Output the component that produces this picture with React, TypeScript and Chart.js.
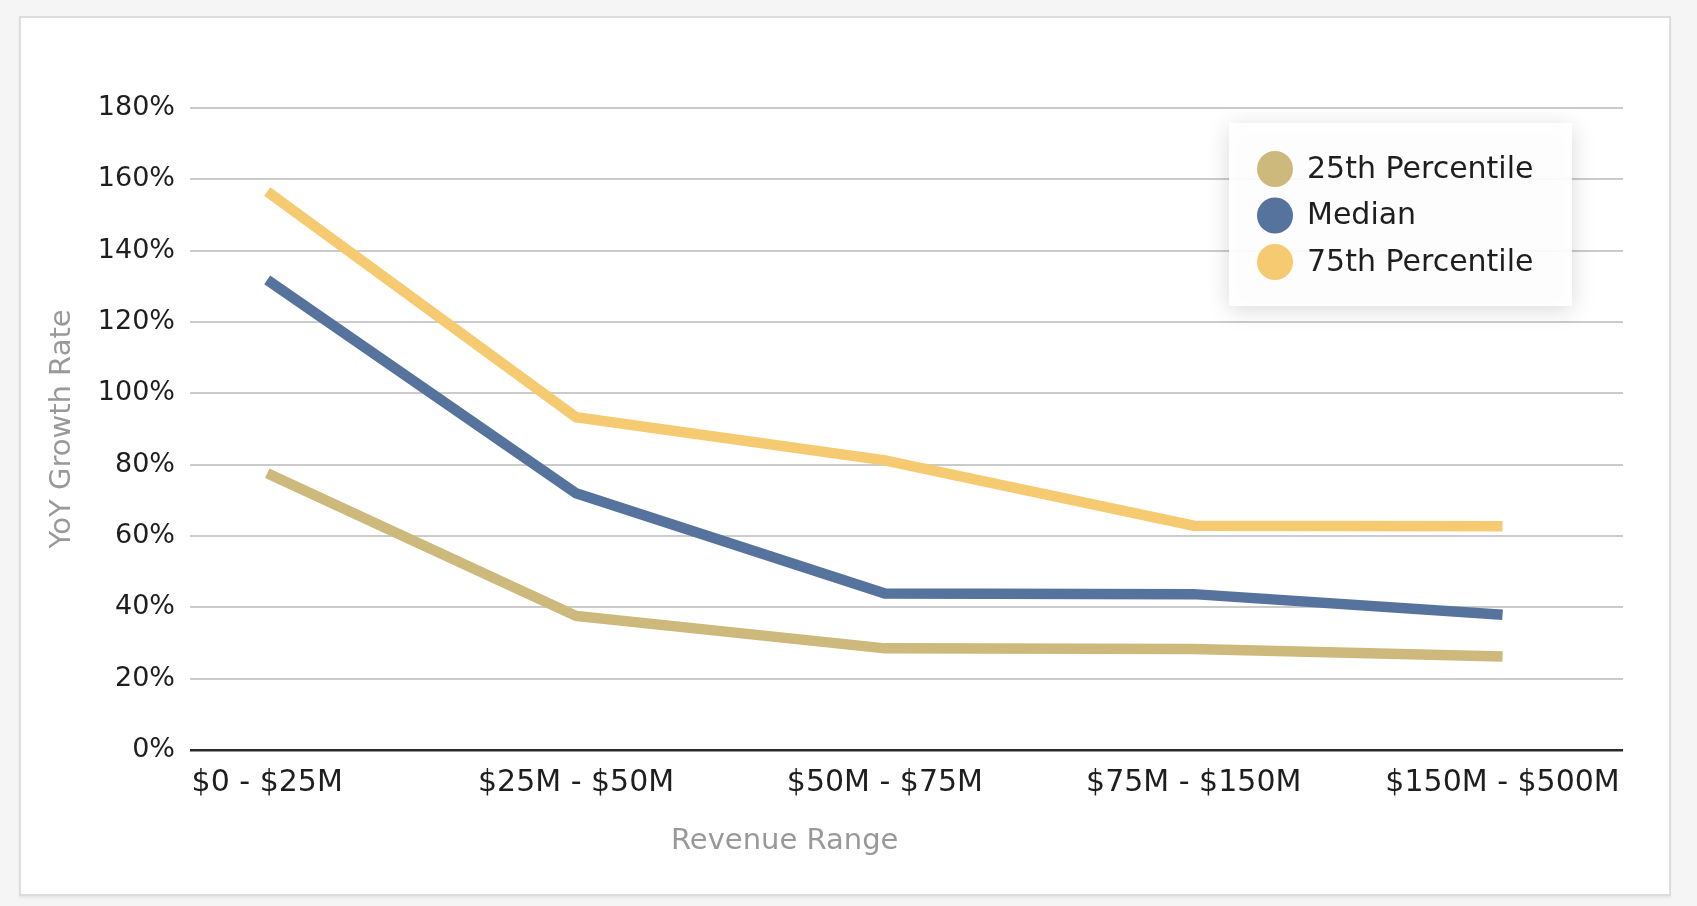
import React, { useEffect, useRef } from "react";
import { Chart, registerables } from "chart.js";

Chart.register(...registerables);

const categories = ["$0 - $25M", "$25M - $50M", "$50M - $75M", "$75M - $150M", "$150M - $500M"];
const seriesNames = ["25th Percentile", "Median", "75th Percentile"];
const p25 = [77.6, 37.6, 28.5, 28.3, 26.2];
const median = [131.8, 72.0, 43.9, 43.7, 37.9];
const p75 = [156.6, 93.3, 81.2, 62.9, 62.7];
const seriesColors = ["#cdb97b", "#56739e", "#f6ca70"];
const yTicks = [0, 20, 40, 60, 80, 100, 120, 140, 160, 180];

const FONT = "'DejaVu Sans', sans-serif";

const overlayPlugin = {
  id: "overlay",
  afterDraw(chart: any) {
    const ctx = chart.ctx;
    const area = chart.chartArea;
    ctx.save();
    // axis titles
    ctx.fillStyle = "#999999";
    ctx.font = `29px ${FONT}`;
    ctx.textAlign = "center";
    ctx.textBaseline = "middle";
    ctx.fillText("Revenue Range", area.left + (area.right - area.left) * 0.415, 841);
    ctx.save();
    ctx.translate(62, (area.top + area.bottom) / 2);
    ctx.rotate(-Math.PI / 2);
    ctx.fillText("YoY Growth Rate", 0, 0);
    ctx.restore();

    // legend box
    const bx = 1229, by = 123, bw = 343, bh = 183;
    ctx.save();
    ctx.shadowColor = "rgba(0,0,0,0.16)";
    ctx.shadowBlur = 22;
    ctx.shadowOffsetY = 4;
    ctx.fillStyle = "rgba(255,255,255,0.93)";
    ctx.fillRect(bx, by, bw, bh);
    ctx.restore();

    ctx.font = `30px ${FONT}`;
    ctx.textAlign = "left";
    ctx.textBaseline = "middle";
    chart.data.datasets.forEach((ds: any, i: number) => {
      const cy = by + 46 + i * 46.5;
      ctx.beginPath();
      ctx.fillStyle = ds.borderColor;
      ctx.arc(bx + 46, cy, 18, 0, Math.PI * 2);
      ctx.fill();
      ctx.fillStyle = "#1e1e1e";
      ctx.fillText(ds.label, bx + 78, cy + 1);
    });
    ctx.restore();
  },
};

export default function App() {
  const ref = useRef<HTMLCanvasElement>(null);

  useEffect(() => {
    if (!ref.current) return;
    const series = [p25, median, p75];
    const chart = new Chart(ref.current, {
      type: "line",
      data: {
        datasets: series.map((vals, s) => ({
          label: seriesNames[s],
          data: vals.map((y, i) => ({ x: i, y })),
          borderColor: seriesColors[s],
          backgroundColor: seriesColors[s],
          borderWidth: 10.5,
          pointRadius: 0,
          tension: 0,
          borderCapStyle: "butt",
          borderJoinStyle: "miter",
        })),
      },
      options: {
        responsive: false,
        animation: false,
        layout: { padding: { top: 108, right: 74, left: 0, bottom: 0 } },
        plugins: {
          legend: { display: false },
          tooltip: { enabled: false },
          title: { display: false },
        },
        scales: {
          x: {
            type: "linear",
            min: -0.25,
            max: 4.39,
            afterBuildTicks: (axis: any) => {
              axis.ticks = categories.map((_, i) => ({ value: i }));
            },
            afterFit: (scale: any) => {
              scale.height = 156;
            },
            grid: { display: false, drawTicks: false },
            border: { display: false },
            ticks: {
              autoSkip: false,
              maxRotation: 0,
              minRotation: 0,
              padding: 15,
              color: "#1e1e1e",
              font: { family: FONT, size: 30 },
              callback: (v: any) => categories[Math.round(Number(v))] ?? "",
            },
          },
          y: {
            min: 0,
            max: 180,
            afterBuildTicks: (axis: any) => {
              axis.ticks = yTicks.map((v) => ({ value: v }));
            },
            afterFit: (scale: any) => {
              scale.width = 190;
            },
            grid: {
              drawTicks: false,
              color: (c: any) => (c.tick && c.tick.value === 0 ? "#2a2a2a" : "#cbcbcb"),
              lineWidth: (c: any) => (c.tick && c.tick.value === 0 ? 2.6 : 2),
            },
            border: { display: false },
            ticks: {
              padding: 15,
              color: "#1e1e1e",
              font: { family: FONT, size: 27 },
              callback: (v: any) => `${v}%`,
            },
          },
        },
      },
      plugins: [overlayPlugin],
    } as any);
    return () => chart.destroy();
  }, []);

  return (
    <div style={{ position: "fixed", left: 0, top: 0, width: 1697, height: 906, background: "#f5f5f5", overflow: "hidden" }}>
      <div
        style={{
          position: "absolute",
          left: 19,
          top: 16,
          width: 1652,
          height: 880,
          boxSizing: "border-box",
          background: "#ffffff",
          border: "2px solid #dddddd",
          boxShadow: "0 2px 2px rgba(0,0,0,0.06)",
        }}
      />
      <canvas ref={ref} width={1697} height={906} style={{ position: "absolute", left: 0, top: 0, width: 1697, height: 906 }} />
    </div>
  );
}
